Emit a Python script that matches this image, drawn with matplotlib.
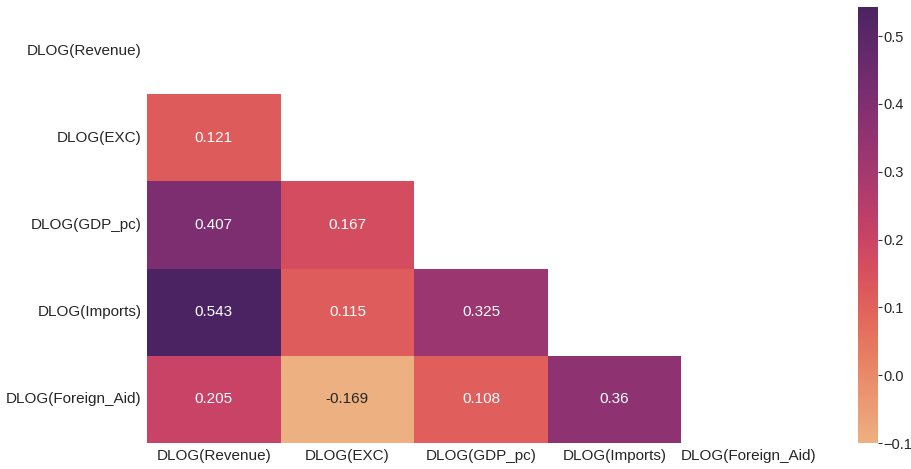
import numpy as np
import pandas as pd
import matplotlib
matplotlib.use("Agg")
import matplotlib.pyplot as plt
import seaborn as sns

# variable names and lower-triangle correlations
names = ["DLOG(Revenue)", "DLOG(EXC)", "DLOG(GDP_pc)", "DLOG(Imports)", "DLOG(Foreign_Aid)"]
row_exc = [0.121]
row_gdp = [0.407, 0.167]
row_imports = [0.543, 0.115, 0.325]
row_aid = [0.205, -0.169, 0.108, 0.36]

sns.set_theme(style="white")
plt.rcParams['font.family'] = ['Liberation Sans', 'DejaVu Sans']

n = len(names)
corr = np.eye(n)
for i, row in enumerate([row_exc, row_gdp, row_imports, row_aid], start=1):
    for j, v in enumerate(row):
        corr[i, j] = v
        corr[j, i] = v
df = pd.DataFrame(corr, index=names, columns=names)
mask = np.triu(np.ones_like(corr, dtype=bool))

fig = plt.figure(figsize=(9.12, 4.69), dpi=100)
ax = fig.add_axes([147/912, 1 - 443/469, (815-147)/912, (443-7)/469])
cax = fig.add_axes([858/912, 1 - 443/469, 20/912, (443-7)/469])

sns.heatmap(df, mask=mask, annot=True, fmt=".3g", cmap="flare", vmin=-0.1,
            ax=ax, cbar_ax=cax, annot_kws={"size": 11})

ax.tick_params(axis='both', labelsize=11, length=0, pad=4)
ax.set_yticklabels(names, rotation=0)
ax.set_xticklabels(names, rotation=0)
cax.tick_params(labelsize=10.5, length=3, width=0.8, color="#333333", pad=1)
cax.set_yticks([-0.1, 0.0, 0.1, 0.2, 0.3, 0.4, 0.5])
for spine in cax.spines.values():
    spine.set_visible(False)

fig.savefig("out.png", dpi=100)
